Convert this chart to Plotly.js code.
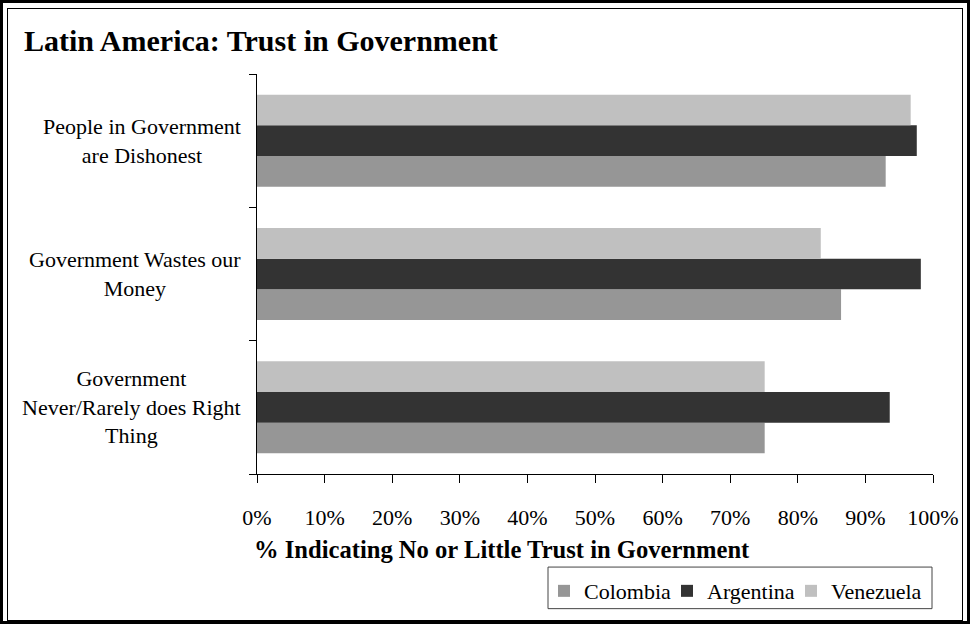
<!DOCTYPE html>
<html>
<head>
<meta charset="utf-8">
<script src="https://cdn.plot.ly/plotly-3.0.1.min.js"></script>
<style>
  html, body { margin: 0; padding: 0; background: #fff; }
  #wrap { position: relative; width: 970px; height: 624px; }
  #chart { position: absolute; left: 0; top: 0; width: 970px; height: 624px; }
  .frame { position: absolute; pointer-events: none; box-sizing: border-box; }
  #outer { left: 0; top: 0; width: 970px; height: 624px; border: 3px solid #000; }
  #inner { left: 7px; top: 8px; width: 956px; height: 613px; border: 1px solid #000; }
</style>
</head>
<body>
<div id="wrap">
  <div id="chart"></div>
  <div id="outer" class="frame"></div>
  <div id="inner" class="frame"></div>
</div>
<script>
// Categories, top to bottom as shown
const categories = [
  "People in Government<br>are Dishonest",
  "Government Wastes our<br>Money",
  "Government<br>Never/Rarely does Right<br>Thing"
];
const seriesNames = ["Colombia", "Argentina", "Venezuela"];
const colombia  = [0.930, 0.864, 0.751];
const argentina = [0.976, 0.982, 0.936];
const venezuela = [0.967, 0.834, 0.751];
const xTickVals = [0, 0.1, 0.2, 0.3, 0.4, 0.5, 0.6, 0.7, 0.8, 0.9, 1.0];
const xTickText = ["0%", "10%", "20%", "30%", "40%", "50%", "60%", "70%", "80%", "90%", "100%"];
const titleText = "Latin America: Trust in Government";
const xTitleText = "% Indicating No or Little Trust in Government";

const colors = ["#969696", "#333333", "#c0c0c0"];
const values = [colombia, argentina, venezuela];
const legendIds = ["legend", "legend2", "legend3"];
const FONT = "'Liberation Serif', 'Times New Roman', serif";

const traces = seriesNames.map((name, i) => ({
  type: "bar",
  orientation: "h",
  name: name,
  x: values[i],
  y: categories,
  legend: legendIds[i],
  marker: { color: colors[i], line: { width: 0 } },
  hoverinfo: "x+name"
}));

const L = 257, R = 933, T = 74, B = 478, W = 970, H = 624;
const pw = R - L, ph = B - T;
const px = v => (v - L) / pw;
const py = v => (B - v) / ph;

const annotations = categories.map(c => ({
  xref: "paper", yref: "y",
  x: px(243), y: c,
  xanchor: "right", yanchor: "middle",
  text: c, align: "center", showarrow: false,
  font: { family: FONT, size: 22, color: "#000" }
}));
annotations.push({
  xref: "paper", yref: "paper",
  x: px(252), y: py(554),
  xanchor: "left", yanchor: "middle",
  text: "<b>" + xTitleText + "</b>", showarrow: false,
  font: { family: FONT, size: 24.6, color: "#000" }
});

const shapes = [{
  type: "rect", xref: "paper", yref: "paper",
  x0: px(548), x1: px(932), y0: py(572), y1: py(614),
  line: { color: "#444", width: 1 }, fillcolor: "rgba(0,0,0,0)",
  layer: "above"
}];

const legendX = [544, 667, 791];
function legendCfg(xp) {
  return {
    orientation: "h",
    x: px(xp), xanchor: "left",
    y: py(575), yanchor: "top",
    borderwidth: 0,
    bgcolor: "rgba(0,0,0,0)",
    font: { family: FONT, size: 22, color: "#000" },
    itemwidth: 30
  };
}

const layout = {
  width: W, height: H,
  margin: { l: L, r: W - R, t: T, b: H - B, pad: 0 },
  paper_bgcolor: "#fff",
  plot_bgcolor: "#fff",
  font: { family: FONT, size: 22, color: "#000" },
  title: {
    text: "<b>" + titleText + "</b>",
    x: 24 / W, xanchor: "left", xref: "container",
    y: 1 - 40 / H, yanchor: "middle", yref: "container",
    font: { family: FONT, size: 30, color: "#000" }
  },
  barmode: "group",
  bargap: 0.31,
  bargroupgap: 0,
  xaxis: {
    range: [0, 1],
    tickvals: xTickVals,
    ticktext: xTickText,
    ticks: "outside", ticklen: 8, tickcolor: "#000", tickwidth: 1,
    showline: true, linecolor: "#000", linewidth: 1,
    showgrid: false, zeroline: false,
    ticklabelstandoff: 16,
    tickfont: { family: FONT, size: 22, color: "#000" },
    fixedrange: true
  },
  yaxis: {
    type: "category",
    categoryorder: "array",
    categoryarray: categories.slice().reverse(),
    tickson: "boundaries",
    ticks: "outside", ticklen: 7, tickcolor: "#000", tickwidth: 1,
    showline: true, linecolor: "#000", linewidth: 1,
    showgrid: false, zeroline: false,
    showticklabels: false,
    fixedrange: true
  },
  showlegend: true,
  legend: legendCfg(legendX[0]),
  legend2: legendCfg(legendX[1]),
  legend3: legendCfg(legendX[2]),
  shapes: shapes,
  annotations: annotations
};

Plotly.newPlot("chart", traces, layout, { displayModeBar: false, staticPlot: true });
</script>
</body>
</html>
